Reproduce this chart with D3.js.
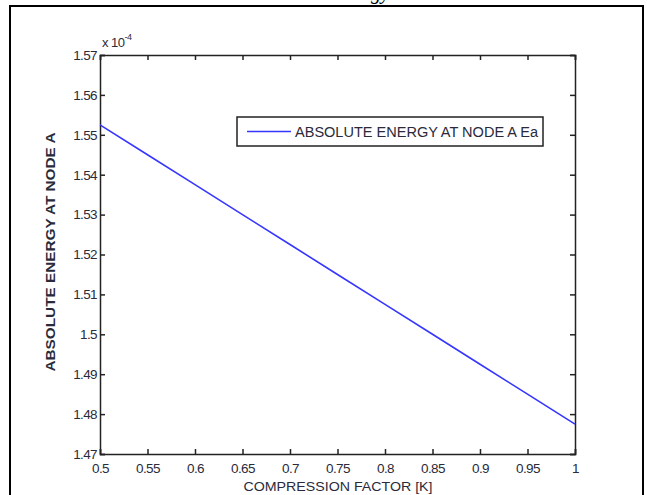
<!DOCTYPE html>
<html>
<head>
<meta charset="utf-8">
<script src="https://cdn.jsdelivr.net/npm/d3@7"></script>
<style>
  body { margin: 0; background: #fff; }
  text { font-family: "Liberation Sans", Arial, sans-serif; fill: #2a2a3a; }
</style>
</head>
<body>
<div id="chart"></div>
<script>
var width = 647
var height = 495

// compression factor K
const kValues = [0.5, 0.55, 0.6, 0.65, 0.7, 0.75, 0.8, 0.85, 0.9, 0.95, 1]
// absolute energy at node A (x 10^-4)
const energyValues = [1.5525, 1.545, 1.5375, 1.53, 1.5225, 1.515, 1.5075, 1.5, 1.4925, 1.485, 1.4775]
const xTicks = [0.5, 0.55, 0.6, 0.65, 0.7, 0.75, 0.8, 0.85, 0.9, 0.95, 1]
const yTicks = [1.47, 1.48, 1.49, 1.5, 1.51, 1.52, 1.53, 1.54, 1.55, 1.56, 1.57]
const seriesName = "ABSOLUTE ENERGY AT NODE A Ea"

var svg = d3.select("#chart").append("svg")
    .attr("width", width)
    .attr("height", height)

// outer figure frame
svg.append("rect")
    .attr("x", 10).attr("y", 6)
    .attr("width", 633).attr("height", 500)
    .attr("fill", "none")
    .attr("stroke", "#000")
    .attr("stroke-width", 2)

// caption above the frame, mostly cut off by the page edge
svg.append("text")
    .attr("x", 390).attr("y", -1)
    .attr("text-anchor", "end")
    .style("font-family", "'Liberation Serif', serif")
    .style("font-style", "italic")
    .style("font-size", "20px")
    .style("fill", "#000")
    .text("Absolute Energy")

const margin = {top: 55, right: 72, bottom: 41, left: 100}
const innerWidth = width - margin.left - margin.right
const innerHeight = height - margin.top - margin.bottom

const xScale = d3.scaleLinear()
    .domain([0.5, 1])
    .range([0, innerWidth])

const yScale = d3.scaleLinear()
    .domain([1.47, 1.57])
    .range([innerHeight, 0])

const g = svg.append("g")
    .attr("transform", `translate(${margin.left}, ${margin.top})`)

const fmt = d => String(+d.toFixed(2))

const xAxis = d3.axisBottom(xScale).tickValues(xTicks).tickSize(-5).tickPadding(9).tickFormat(fmt)
const yAxis = d3.axisLeft(yScale).tickValues(yTicks).tickSize(-5).tickPadding(3).tickFormat(fmt)
const xTop = d3.axisTop(xScale).tickValues(xTicks).tickSize(-5).tickFormat("")
const yRight = d3.axisRight(yScale).tickValues(yTicks).tickSize(-5).tickFormat("")

const styleAxis = sel => {
    sel.selectAll("path").attr("stroke", "#222").attr("stroke-width", 1.5)
    sel.selectAll("line").attr("stroke", "#222").attr("stroke-width", 1.5)
    sel.selectAll("text").style("font-size", "13.5px").style("fill", "#2a2a3a")
        .style("letter-spacing", "-0.6px")
}

g.append("g").attr("transform", `translate(0, ${innerHeight})`).call(xAxis).call(styleAxis)
g.append("g").call(yAxis).call(styleAxis)
g.append("g").call(xTop).call(styleAxis)
g.append("g").attr("transform", `translate(${innerWidth}, 0)`).call(yRight).call(styleAxis)

// exponent label
g.append("text")
    .attr("x", 2).attr("y", -8)
    .style("font-size", "13px")
    .style("letter-spacing", "-0.5px")
    .text("x 10")
  .append("tspan")
    .attr("dy", -7)
    .style("font-size", "9px")
    .text("-4")

// the series line
const data = kValues.map((k, i) => ({k: k, e: energyValues[i]}))
const line = d3.line()
    .x(d => xScale(d.k))
    .y(d => yScale(d.e))

g.append("path")
    .datum(data)
    .attr("fill", "none")
    .attr("stroke", "#3636ff")
    .attr("stroke-width", 1.6)
    .attr("d", line)

// legend
const legend = g.append("g").attr("transform", "translate(137, 62)")
legend.append("rect")
    .attr("width", 306).attr("height", 29)
    .attr("fill", "#fff")
    .attr("stroke", "#222")
    .attr("stroke-width", 1.5)
legend.append("line")
    .attr("x1", 10).attr("x2", 54)
    .attr("y1", 14.5).attr("y2", 14.5)
    .attr("stroke", "#3636ff")
    .attr("stroke-width", 1.6)
legend.append("text")
    .attr("x", 58).attr("y", 19.5)
    .attr("textLength", 243)
    .attr("lengthAdjust", "spacingAndGlyphs")
    .style("font-size", "14px")
    .text(seriesName)

// axis titles
svg.append("text")
    .attr("x", 338)
    .attr("y", 491)
    .attr("text-anchor", "middle")
    .attr("textLength", 189)
    .attr("lengthAdjust", "spacingAndGlyphs")
    .style("font-size", "13.5px")
    .text("COMPRESSION FACTOR [K]")

svg.append("text")
    .attr("transform", `translate(55, 252) rotate(-90)`)
    .attr("text-anchor", "middle")
    .attr("textLength", 239)
    .attr("lengthAdjust", "spacingAndGlyphs")
    .style("font-size", "13px")
    .style("font-weight", "bold")
    .text("ABSOLUTE ENERGY AT NODE A")
</script>
</body>
</html>
